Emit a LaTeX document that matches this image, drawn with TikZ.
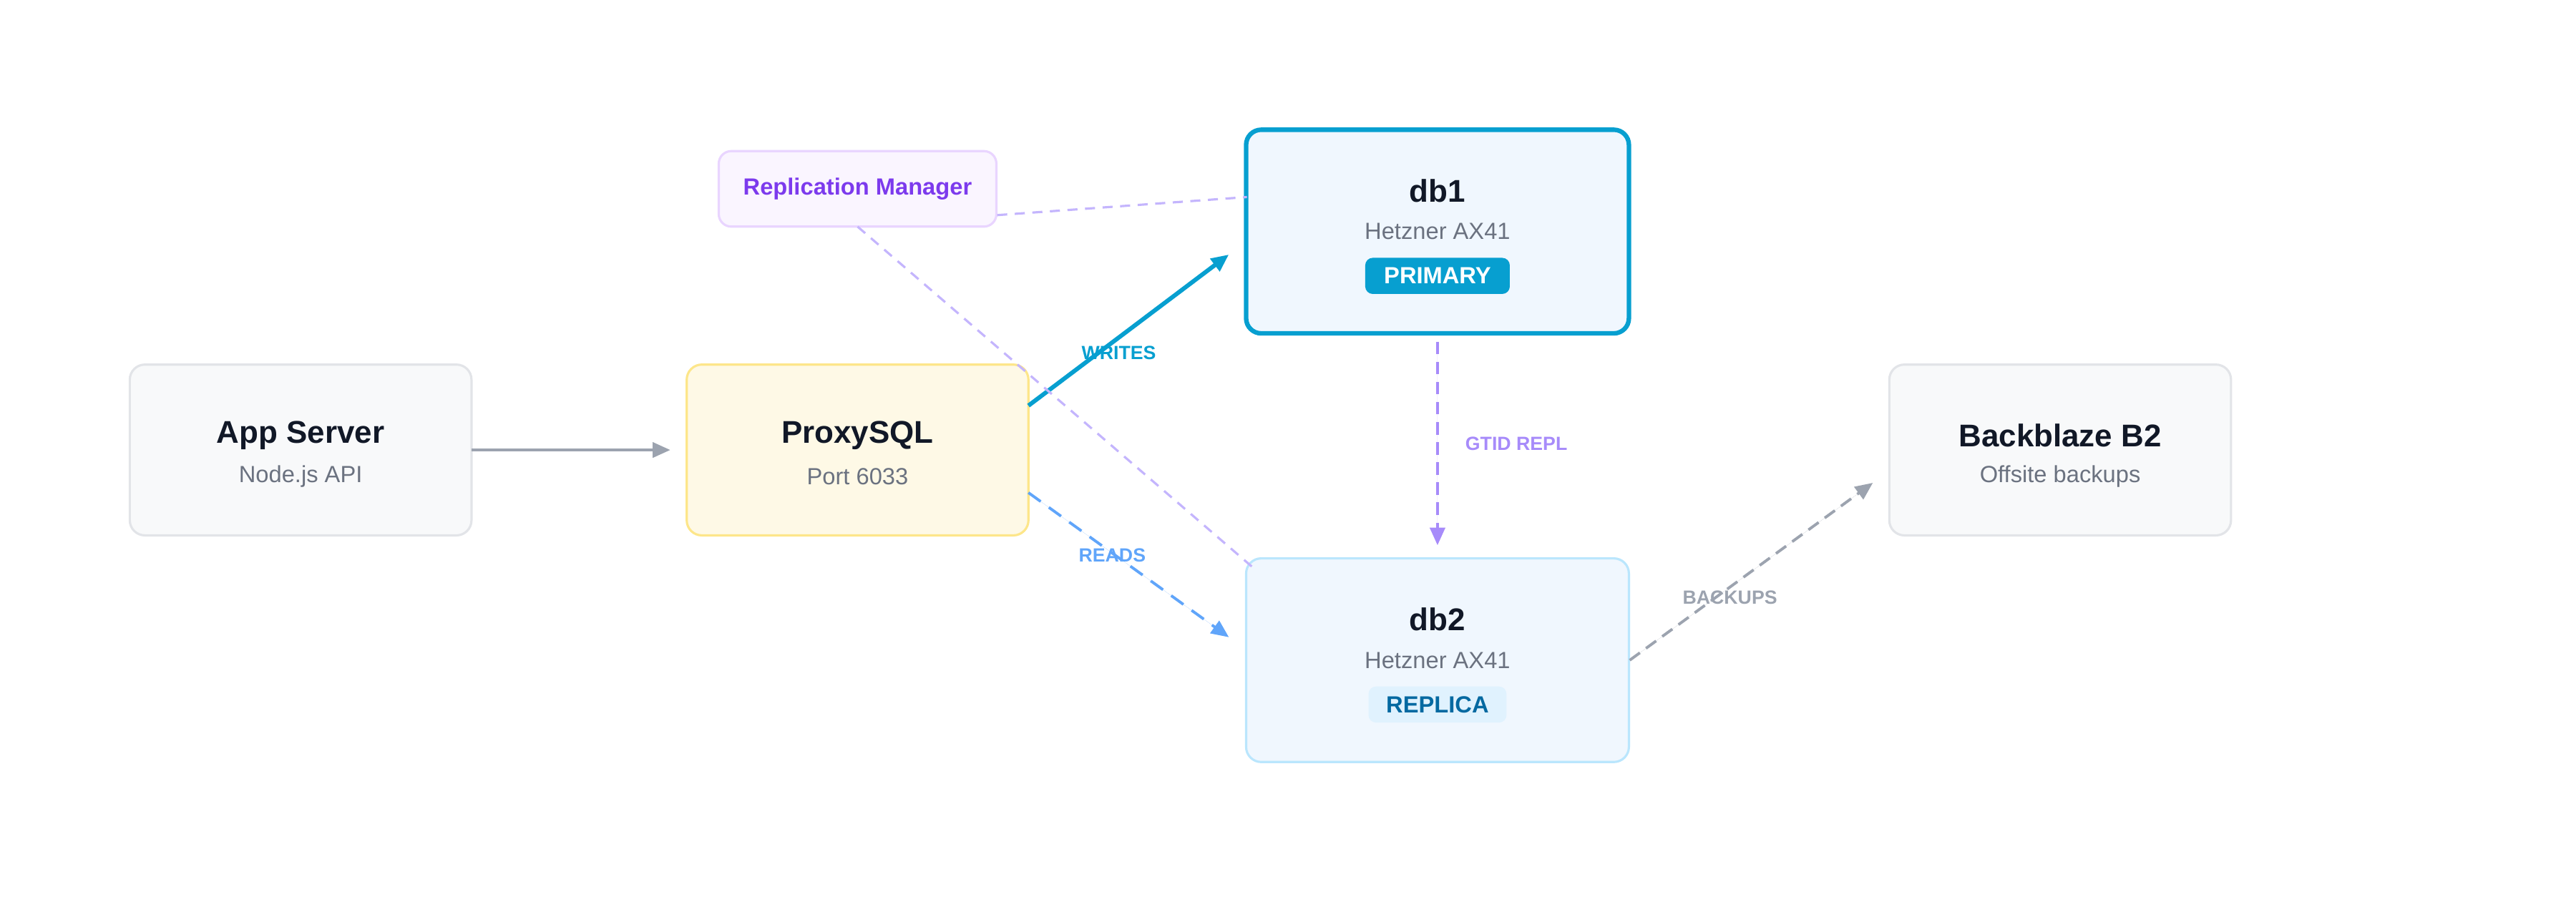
\documentclass[tikz,border=0pt]{standalone}
\usepackage{fontspec}
\setmainfont{Liberation Sans}
\usetikzlibrary{arrows.meta}
\definecolor{cgraybd}{HTML}{E2E4E8}
\definecolor{cgrayfill}{HTML}{F8F9FA}
\definecolor{cyelfill}{HTML}{FEF9E6}
\definecolor{cyelbd}{HTML}{FDE68A}
\definecolor{cpurfill}{HTML}{FAF5FF}
\definecolor{cpurbd}{HTML}{E9D5FF}
\definecolor{cpurtxt}{HTML}{7C3AED}
\definecolor{cbluefill}{HTML}{F0F7FE}
\definecolor{cprim}{HTML}{079FD0}
\definecolor{crepbd}{HTML}{BAE6FD}
\definecolor{crepbadge}{HTML}{E0F2FE}
\definecolor{creptxt}{HTML}{0369A1}
\definecolor{ctitle}{HTML}{111827}
\definecolor{csub}{HTML}{6B7280}
\definecolor{carrow}{HTML}{9CA3AF}
\definecolor{creads}{HTML}{60A5FA}
\definecolor{cgtid}{HTML}{A78BFA}
\definecolor{cmgr}{HTML}{C4B5FD}
\begin{document}
\begin{tikzpicture}[x=0.02296cm,y=-0.02296cm,
  box/.style={draw=cgraybd,fill=cgrayfill,line width=0.9pt,rounded corners=6pt,minimum width=208*0.02296cm,minimum height=104*0.02296cm},
  ttl/.style={font=\bfseries\fontsize{12.5}{14}\selectfont,text=ctitle},
  sub/.style={font=\fontsize{9.3}{11}\selectfont,text=csub},
  lbl/.style={font=\bfseries\fontsize{7.6}{9}\selectfont},
  arr/.style={-{Triangle[length=7pt,width=6pt]},line width=1.1pt}]
\useasboundingbox (0,0) rectangle (1568,549);
\node[box] (app) at (183,274) {};
\node[ttl] at (183,265) {App Server};
\node[sub] at (183,290) {Node.js API};
\node[box,fill=cyelfill,draw=cyelbd] (proxy) at (522,274) {};
\node[ttl] at (522,265) {ProxySQL};
\node[sub] at (522,290) {Port 6033};
\node[box] (bb) at (1254,274) {};
\node[ttl] at (1254,265) {Backblaze B2};
\node[sub] at (1254,290) {Offsite backups};
\node[draw=cpurbd,fill=cpurfill,line width=0.9pt,rounded corners=5pt,minimum width=169*0.02296cm,minimum height=46*0.02296cm,font=\bfseries\fontsize{9.3}{11}\selectfont,text=cpurtxt] (mgr) at (522,115) {Replication Manager};
\node[box,draw=cprim,fill=cbluefill,line width=1.8pt,minimum width=233*0.02296cm,minimum height=124*0.02296cm] (db1) at (875,141) {};
\node[ttl] at (875,116) {db1};
\node[sub] at (875,141) {Hetzner AX41};
\node[fill=cprim,text=white,rounded corners=3pt,minimum width=88*0.02296cm,minimum height=22*0.02296cm,inner sep=0pt,font=\bfseries\fontsize{9.3}{11}\selectfont] (b1) at (875,168) {PRIMARY};
\node[box,draw=crepbd,fill=cbluefill,minimum width=233*0.02296cm,minimum height=124*0.02296cm] (db2) at (875,402) {};
\node[ttl] at (875,377) {db2};
\node[sub] at (875,402) {Hetzner AX41};
\node[fill=crepbadge,text=creptxt,rounded corners=3pt,minimum width=84*0.02296cm,minimum height=22*0.02296cm,inner sep=0pt,font=\bfseries\fontsize{9.3}{11}\selectfont] (b2) at (875,429) {REPLICA};
\coordinate (a1) at (287,274); \coordinate (a2) at (408,274);
\draw[arr,draw=carrow,fill=carrow] (a1) -- (a2);
\coordinate (w1) at (626,247); \coordinate (w2) at (748,155);
\draw[arr,draw=cprim,fill=cprim,line width=1.7pt] (w1) -- (w2);
\node[lbl,text=cprim] at (681,215) {WRITES};
\coordinate (r1) at (626,300); \coordinate (r2) at (748,388);
\draw[arr,draw=creads,fill=creads,dashed,dash pattern=on 6pt off 4pt] (r1) -- (r2);
\node[lbl,text=creads] at (677,338) {READS};
\coordinate (g1) at (875,208); \coordinate (g2) at (875,332);
\draw[arr,draw=cgtid,fill=cgtid,dash pattern=on 5pt off 3pt] (g1) -- (g2);
\node[lbl,text=cgtid] at (923,270) {GTID REPL};
\coordinate (m1) at (607,131); \coordinate (m2) at (759,120);
\draw[cmgr,line width=0.9pt,dash pattern=on 4pt off 3pt] (m1) -- (m2);
\coordinate (m3) at (522,138); \coordinate (m4) at (762,345);
\draw[cmgr,line width=0.9pt,dash pattern=on 4pt off 3pt] (m3) -- (m4);
\coordinate (k1) at (992,402); \coordinate (k2) at (1140,294);
\draw[arr,draw=carrow,fill=carrow,dash pattern=on 5pt off 3pt] (k1) -- (k2);
\node[lbl,text=carrow] at (1053,364) {BACKUPS};
\end{tikzpicture}
\end{document}
